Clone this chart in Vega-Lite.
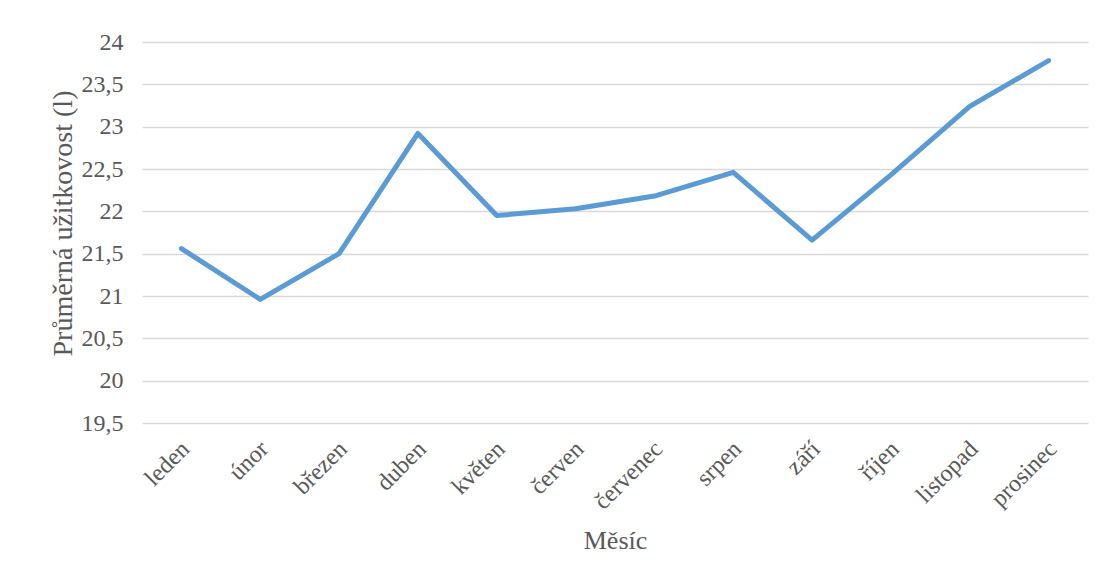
{
  "$schema": "https://vega.github.io/schema/vega-lite/v6.json",
  "width": 946,
  "height": 381,
  "autosize": {"type": "none"},
  "padding": {"left": 142, "top": 42, "right": 18, "bottom": 159},
  "background": "white",
  "config": {
    "view": {"stroke": null},
    "font": "'Liberation Serif', 'Times New Roman', serif",
    "axis": {"labelFont": "'Liberation Serif', 'Times New Roman', serif", "titleFont": "'Liberation Serif', 'Times New Roman', serif", "labelColor": "#595959", "titleColor": "#595959", "titleFontWeight": "normal"}
  },
  "data": {
    "values": [
      {"mesic": "leden", "hodnota": 21.56},
      {"mesic": "únor", "hodnota": 20.96},
      {"mesic": "březen", "hodnota": 21.5},
      {"mesic": "duben", "hodnota": 22.92},
      {"mesic": "květen", "hodnota": 21.95},
      {"mesic": "červen", "hodnota": 22.03},
      {"mesic": "červenec", "hodnota": 22.18},
      {"mesic": "srpen", "hodnota": 22.46},
      {"mesic": "září", "hodnota": 21.66},
      {"mesic": "říjen", "hodnota": 22.43},
      {"mesic": "listopad", "hodnota": 23.24},
      {"mesic": "prosinec", "hodnota": 23.78}
    ]
  },
  "mark": {"type": "line", "color": "#5B9BD5", "strokeWidth": 5, "strokeCap": "round", "strokeJoin": "round"},
  "encoding": {
    "x": {
      "field": "mesic", "type": "ordinal", "sort": null,
      "scale": {"type": "point", "padding": 0.5},
      "axis": {"title": "Měsíc", "labelAngle": -45, "labelAlign": "right", "labelBaseline": "middle", "labelFontSize": 24, "titleFontSize": 26, "labelPadding": 22, "labelOffset": 4, "titlePadding": 14, "domain": false, "ticks": false, "grid": false}
    },
    "y": {
      "field": "hodnota", "type": "quantitative",
      "scale": {"domain": [19.5, 24], "nice": false, "zero": false},
      "axis": {"title": "Průměrná užitkovost (l)", "values": [19.5, 20, 20.5, 21, 21.5, 22, 22.5, 23, 23.5, 24], "labelExpr": "replace(format(datum.value, '.1~f'), '.', ',')", "labelFontSize": 24, "titleFontSize": 28, "labelPadding": 19, "titlePadding": 4, "titleY": 181, "domain": false, "ticks": false, "grid": true, "gridColor": "#D9D9D9", "gridWidth": 1.5}
    }
  }
}
